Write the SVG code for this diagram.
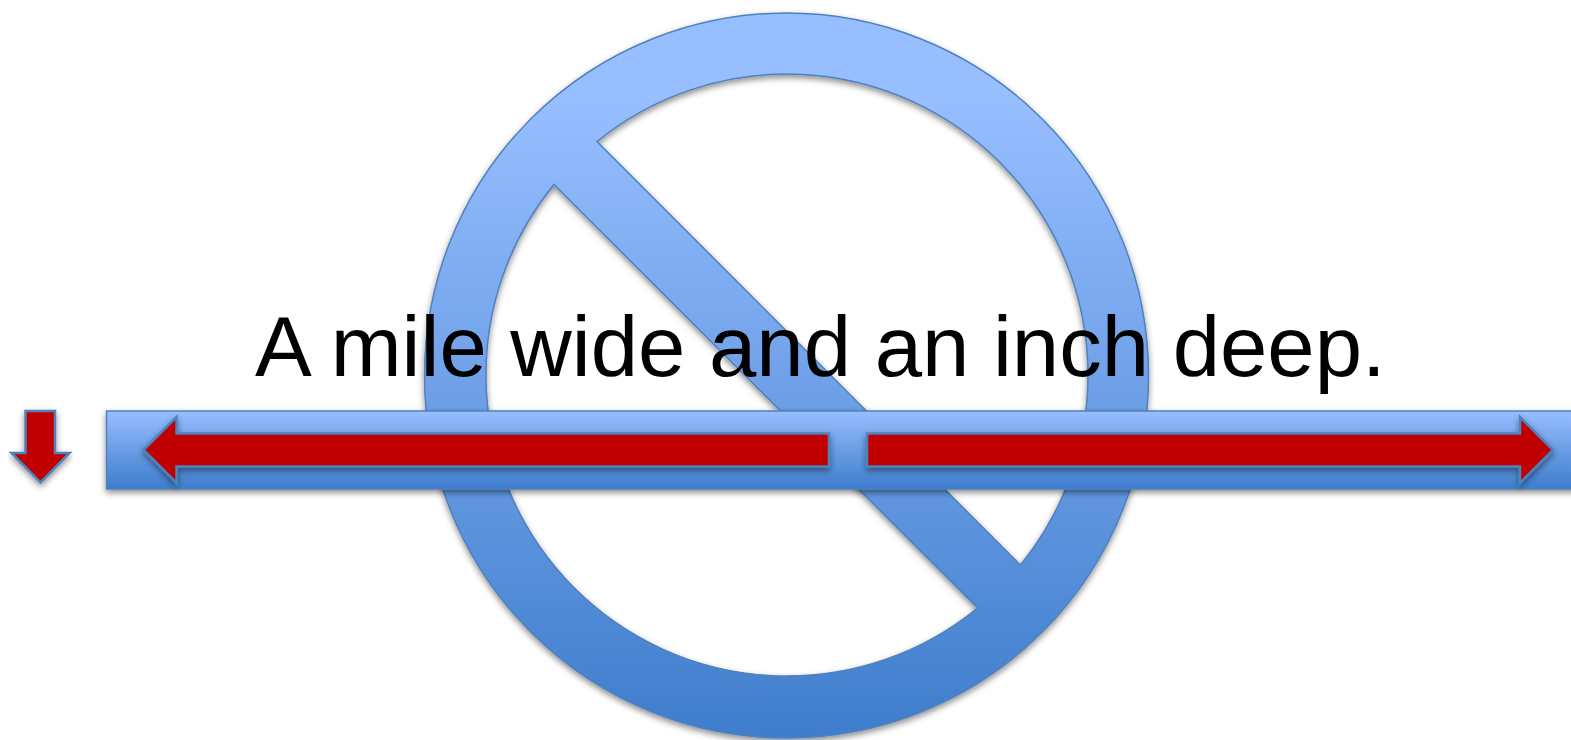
<svg xmlns="http://www.w3.org/2000/svg" width="1571" height="740" viewBox="0 0 1571 740">
<style>
.blue{stroke:#4F81BD;stroke-width:1.5;filter:url(#sh)}
.red{fill:#C00000;stroke:#4F81BD;stroke-width:2.5;stroke-linejoin:miter;filter:url(#sh)}
text{font-family:"Liberation Sans",Arial,sans-serif;font-size:85.100px;fill:#000}
</style>
<defs>
<linearGradient id="gc" x1="0" y1="0" x2="0" y2="1"><stop offset="0.12" stop-color="#97BEFF"/><stop offset="1" stop-color="#3E7DCC"/></linearGradient>
<linearGradient id="gb" x1="0" y1="0" x2="0" y2="1"><stop offset="0" stop-color="#97BEFF"/><stop offset="1" stop-color="#3E7DCC"/></linearGradient>
<filter id="sh" x="-5%" y="-20%" width="110%" height="150%"><feDropShadow dx="0" dy="3" stdDeviation="3" flood-color="#000" flood-opacity="0.45"/></filter>
</defs>
<g id="no-symbol">
<path class="blue" fill="url(#gc)" fill-rule="evenodd" d="M424.500 375.500A362 362.500 0 1 1 1148.500 375.500A362 362.500 0 1 1 424.500 375.500ZM597.030 141.530A301 301 0 0 1 1020.470 564.970ZM553.970 184.470L977.530 608.030A301 301 0 0 1 553.970 184.470Z"/>
</g>
<g id="label"><text x="255" y="376">A mile wide and an inch deep.</text></g>
<g id="bar"><rect class="blue" fill="url(#gb)" x="106.500" y="411" width="1480" height="78"/></g>
<g id="connectors">
<path id="arrow-left" class="red" d="M143.500 450L176.500 417V433.500H829V466.500H176.500V483Z"/>
<path id="arrow-right" class="red" d="M867 433.500H1520V417L1553 450L1520 483V466.500H867Z"/>
<path id="arrow-down" class="red" d="M25.500 411H55V453H69.500L40.500 482.500L11.500 453H25.500Z"/>
</g>
</svg>
